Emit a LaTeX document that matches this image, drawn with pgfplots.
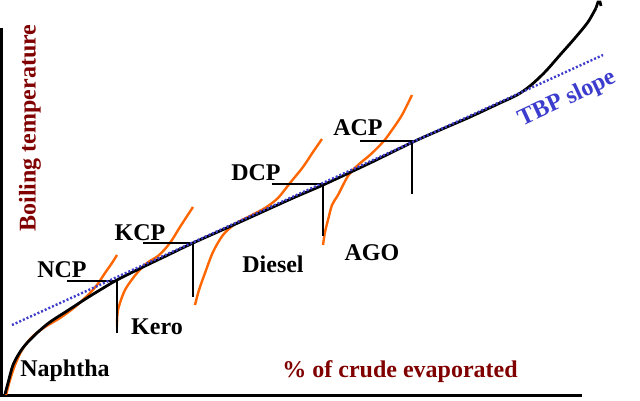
\documentclass[border=0pt]{standalone}
\usepackage{pgfplots}
\pgfplotsset{compat=1.18}
\usepackage{fontspec}
\setmainfont{Liberation Serif}
\definecolor{dred}{RGB}{128,0,0}
\definecolor{tbpblue}{RGB}{60,60,205}
\definecolor{cutorange}{RGB}{255,102,0}
\begin{document}
\begin{tikzpicture}
\begin{axis}[
  width=640pt, height=401pt, scale only axis,
  xmin=0, xmax=640, ymin=0, ymax=401, y dir=reverse,
  hide axis, clip=false,
]
\path (rel axis cs:0,0) rectangle (rel axis cs:1,1);
% axes
\addplot[black, line width=3pt] coordinates {(1.5,28) (1.5,395) (582,395)};
% orange cut curves
\addplot[cutorange, line width=2.4pt, smooth] coordinates {(6,395) (10,380) (15,365) (22,350) (32,337) (45,327) (60,318) (75,307) (88,295) (97,285) (105,273) (112,263) (117,255)};
\addplot[cutorange, line width=2.4pt, smooth] coordinates {(117,326) (118,310) (125,290) (137,273) (147,263) (158,256) (165,249) (172,240) (180,227) (193,207)};
\addplot[cutorange, line width=2.4pt, smooth] coordinates {(195,305) (199,290) (205,273) (213,252) (223,235) (235,224) (250,216) (265,208) (278,198) (290,183) (303,167) (313,152) (322,139)};
\addplot[cutorange, line width=2.4pt, smooth] coordinates {(323,245) (325,232) (328,220) (332,205) (338,195) (348,176) (358,165) (370,155) (383,142) (392,130) (402,115) (412,95)};
% TBP curve
\addplot[black, line width=2.8pt, smooth] coordinates {(5,394) (8,383) (13,365) (20,352) (27,343) (38,332) (50,322) (67,311) (87,298) (100,290) (117,280) (143,267) (168,255) (193,243) (240,222) (293,198) (323,185) (370,163) (413,142) (440,130) (470,117) (500,103) (517,95) (530,86) (545,72) (560,55) (575,38) (588,22) (596,8)};
\addplot[black, line width=2.8pt] coordinates {(596,8) (598,2) (600,2) (601,6)};
% cut point markers
\addplot[black, line width=2.8pt] coordinates {(67,281) (117,281) (117,333)};
\addplot[black, line width=2.8pt] coordinates {(143,243) (193,243) (193,297)};
\addplot[black, line width=2.8pt] coordinates {(272,184) (323,184) (323,236)};
\addplot[black, line width=2.8pt] coordinates {(360,141) (412,141) (412,194)};
% TBP slope line
\addplot[tbpblue, line width=2.4pt, dash pattern=on 2pt off 2pt] coordinates {(12,325) (603,55)};
% labels
\node[font=\fontsize{24}{26}\selectfont\bfseries] at (axis cs:62,270) {NCP};
\node[font=\fontsize{24}{26}\selectfont\bfseries] at (axis cs:140,233) {KCP};
\node[font=\fontsize{24}{26}\selectfont\bfseries] at (axis cs:256,173) {DCP};
\node[font=\fontsize{24}{26}\selectfont\bfseries] at (axis cs:358,128) {ACP};
\node[font=\fontsize{24}{26}\selectfont\bfseries] at (axis cs:65,371) {Naphtha};
\node[font=\fontsize{24}{26}\selectfont\bfseries] at (axis cs:157,327) {Kero};
\node[font=\fontsize{24}{26}\selectfont\bfseries] at (axis cs:273,264) {Diesel};
\node[font=\fontsize{24}{26}\selectfont\bfseries] at (axis cs:372,253) {AGO};
\node[font=\fontsize{24}{26}\selectfont\bfseries, text=tbpblue, rotate=25] at (axis cs:567,99) {TBP slope};
\node[font=\fontsize{24}{26}\selectfont\bfseries, text=dred, rotate=90] at (axis cs:30,128) {Boiling temperature};
\node[font=\fontsize{24}{26}\selectfont\bfseries, text=dred] at (axis cs:400,372) {\% of crude evaporated};
\end{axis}
\end{tikzpicture}
\end{document}
